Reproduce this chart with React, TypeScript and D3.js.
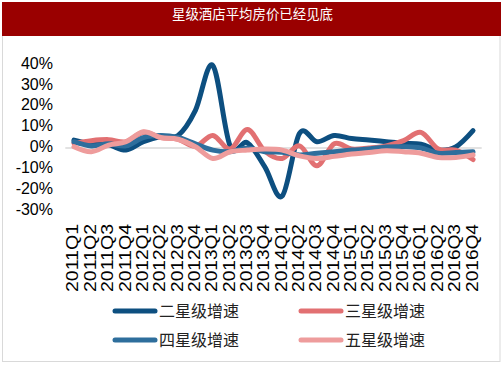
import React from "react";
import * as d3 from "d3";

const quarters = [
  "2011Q1","2011Q2","2011Q3","2011Q4","2012Q1","2012Q2","2012Q3","2012Q4",
  "2013Q1","2013Q2","2013Q3","2013Q4","2014Q1","2014Q2","2014Q3","2014Q4",
  "2015Q1","2015Q2","2015Q3","2015Q4","2016Q1","2016Q2","2016Q3","2016Q4",
];
const twoStar = [3.8, 2.0, 1.5, -1.0, 3.0, 5.5, 6.0, 18.0, 39.5, 1.0, 2.5, -9.0, -23.0, 7.0, 3.0, 6.0, 4.5, 3.8, 3.0, 2.2, 1.8, -1.0, 0.5, 8.3];
const threeStar = [2.2, 3.5, 4.0, 3.0, 7.5, 5.0, 4.2, 0.8, 6.0, -0.5, 8.8, -1.5, -5.0, 1.0, -8.5, 2.0, -0.5, 0.0, 1.0, 3.5, 7.5, -0.5, -1.0, -5.5];
const fourStar = [3.0, 1.0, 2.0, 1.0, 5.0, 6.0, 5.0, 2.0, -1.0, -1.8, 0.0, -1.8, -2.0, -3.3, -2.5, -1.8, -1.0, -0.5, 0.5, 0.6, 0.0, -2.5, -2.2, -1.8];
const fiveStar = [0.6, -1.8, 1.4, 3.0, 7.8, 5.0, 4.2, 0.6, -5.0, -1.8, -1.0, -0.5, -1.0, -3.8, -5.0, -4.0, -2.9, -2.2, -1.3, -1.8, -2.5, -4.5, -4.5, -3.3];
const seriesNames = ["二星级增速", "三星级增速", "四星级增速", "五星级增速"];
const yTicks = [40, 30, 20, 10, 0, -10, -20, -30];
const title = "星级酒店平均房价已经见底";

const colors = ["#0D4F80", "#E27072", "#2E6E9C", "#EE9C9C"];

export default function App() {
  const W = 503, H = 378;
  const x = d3.scaleBand<string>().domain(quarters).range([65.3, 481.7]);
  const y = d3.scaleLinear().domain([-30, 40]).range([210.7, 64.4]);
  const cx = (q: string) => (x(q) as number) + x.bandwidth() / 2;
  const series = [twoStar, threeStar, fourStar, fiveStar];
  const line = d3
    .line<number>()
    .x((_, i) => cx(quarters[i]))
    .y((d) => y(d))
    .curve(d3.curveCardinal.tension(0));

  const legendPos = [
    { x: 115, y: 311 },
    { x: 301, y: 311 },
    { x: 115, y: 340 },
    { x: 301, y: 340 },
  ];

  return (
    <svg width={W} height={H} style={{ position: "absolute", left: 0, top: 0 }}>
      <rect x={0} y={0} width={W} height={H} fill="#fff" />
      <rect x={2.5} y={35.5} width={497.5} height={326} fill="#fff" stroke="#D9D9D9" strokeWidth={1} />
      <rect x={2} y={2} width={499} height={34} fill="#9A0000" />
      <text
        x={172}
        y={15}
        fill="#fff"
        fontSize={14}
        textLength={161}
        lengthAdjust="spacingAndGlyphs"
        dominantBaseline="middle"
        fontFamily="'Noto Sans CJK SC', sans-serif"
      >
        {title}
      </text>

      {/* zero line */}
      <line x1={x.range()[0]} x2={x.range()[1]} y1={y(0)} y2={y(0)} stroke="#D9D9D9" strokeWidth={1.5} />

      {/* y labels */}
      {yTicks.map((t) => (
        <text
          key={t}
          x={53}
          y={y(t)}
          textAnchor="end"
          dominantBaseline="middle"
          fontSize={16}
          fontFamily="'Liberation Sans', Arial, sans-serif"
          fill="#000"
        >
          {t}%
        </text>
      ))}

      {/* x labels */}
      {quarters.map((q) => (
        <text
          key={q}
          transform={`translate(${cx(q)},224) rotate(-90)`}
          textAnchor="end"
          dominantBaseline="middle"
          fontSize={17}
          textLength={68}
          lengthAdjust="spacingAndGlyphs"
          fontFamily="'Liberation Sans', Arial, sans-serif"
          fill="#000"
        >
          {q}
        </text>
      ))}

      {/* lines */}
      {series.map((s, i) => (
        <path
          key={i}
          d={line(s) || ""}
          fill="none"
          stroke={colors[i]}
          strokeWidth={5}
          strokeLinejoin="round"
          strokeLinecap="round"
        />
      ))}

      {/* legend */}
      {seriesNames.map((n, i) => (
        <g key={n}>
          <line
            x1={legendPos[i].x}
            x2={legendPos[i].x + 40}
            y1={legendPos[i].y}
            y2={legendPos[i].y}
            stroke={colors[i]}
            strokeWidth={5}
            strokeLinecap="round"
          />
          <text
            x={legendPos[i].x + 44}
            y={legendPos[i].y + 2}
            dominantBaseline="middle"
            fontSize={16}
            fontFamily="'Noto Sans CJK SC', sans-serif"
            fill="#222"
          >
            {n}
          </text>
        </g>
      ))}
    </svg>
  );
}
